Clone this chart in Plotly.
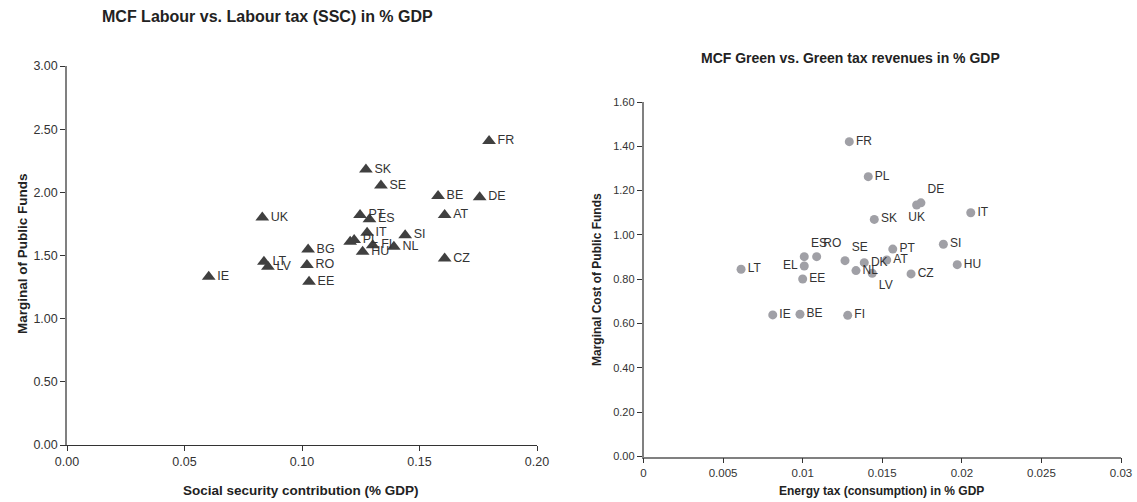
import plotly.graph_objects as go

# ---------------- Data: left chart (MCF Labour vs SSC) ----------------
labour_countries = ["FR", "SK", "SE", "BE", "DE", "UK", "PT", "ES", "AT", "IT", "SI",
                    "", "PL", "FI", "NL", "HU", "CZ", "BG", "LT", "LV", "RO", "IE", "EE"]
labour_ssc = [0.1796, 0.1272, 0.1336, 0.1579, 0.1756, 0.0831, 0.1247, 0.1287, 0.1607, 0.1277, 0.1439,
              0.1205, 0.1222, 0.1301, 0.1391, 0.1258, 0.1607, 0.1026, 0.0838, 0.0855, 0.1021, 0.0603, 0.1030]
labour_mcf = [2.407, 2.181, 2.055, 1.970, 1.962, 1.801, 1.820, 1.786, 1.820, 1.680, 1.661,
              1.608, 1.622, 1.582, 1.569, 1.529, 1.477, 1.548, 1.450, 1.411, 1.424, 1.331, 1.292]

# ---------------- Data: right chart (MCF Green vs energy tax) ----------------
green_countries = ["FR", "PL", "DE", "UK", "IT", "SK", "SI", "PT", "HU", "CZ", "LT", "IE", "BE", "FI",
                   "ES", "RO", "EL", "EE", "SE", "NL", "DK", "LV", "AT"]
green_tax = [0.01293, 0.01412, 0.01743, 0.01716, 0.02056, 0.01450, 0.01884, 0.01566, 0.01971, 0.01681,
             0.00613, 0.00812, 0.00983, 0.01283,
             0.01010, 0.01088, 0.01010, 0.01000, 0.01266, 0.01335, 0.01387, 0.01437, 0.01528]
green_mcf = [1.421, 1.263, 1.145, 1.135, 1.100, 1.070, 0.958, 0.936, 0.866, 0.824,
             0.845, 0.639, 0.642, 0.637,
             0.902, 0.902, 0.860, 0.801, 0.884, 0.839, 0.875, 0.827, 0.887]

# tick labels
left_xticks = [0.00, 0.05, 0.10, 0.15, 0.20]
left_yticks = [0.00, 0.50, 1.00, 1.50, 2.00, 2.50, 3.00]
right_xticks = [0, 0.005, 0.01, 0.015, 0.02, 0.025, 0.03]
right_xticktext = ["0", "0.005", "0.01", "0.015", "0.02", "0.025", "0.03"]
right_yticks = [0.00, 0.20, 0.40, 0.60, 0.80, 1.00, 1.20, 1.40, 1.60]

# label placement exceptions (style)
green_textpos_special = {"UK": "bottom center", "DE": "top right", "ES": "top right",
                         "RO": "top right", "SE": "top right", "EL": "middle left",
                         "LV": "bottom right"}
green_textpos = [green_textpos_special.get(c, "middle right") for c in green_countries]

W, H = 1137, 502
FONT = "Liberation Sans, Arial, sans-serif"

def px_x(p):
    return p / W

def px_y(p):
    return 1 - p / H

fig = go.Figure()

fig.add_trace(go.Scatter(
    x=labour_ssc, y=labour_mcf, text=labour_countries,
    mode="markers+text", textposition="middle right",
    marker=dict(symbol="triangle-up", size=12, color="#404040"),
    textfont=dict(family=FONT, size=12.5, color="#333333"),
    cliponaxis=False, xaxis="x", yaxis="y", showlegend=False,
))

fig.add_trace(go.Scatter(
    x=green_tax, y=green_mcf, text=green_countries,
    mode="markers+text", textposition=green_textpos,
    marker=dict(symbol="circle", size=9, color="#A0A0A6"),
    textfont=dict(family=FONT, size=12, color="#333333"),
    cliponaxis=False, xaxis="x2", yaxis="y2", showlegend=False,
))

axis_common = dict(showgrid=False, zeroline=False, showline=True, ticks="outside",
                   ticklen=5, automargin=False, fixedrange=True)

fig.update_layout(
    width=W, height=H,
    margin=dict(l=0, r=0, t=0, b=0),
    paper_bgcolor="white", plot_bgcolor="white",
    font=dict(family=FONT, color="#333333"),
    xaxis=dict(domain=[px_x(67), px_x(537)], range=[0, 0.2],
               tickvals=left_xticks, tickformat=".2f",
               linecolor="#333333", tickcolor="#333333", linewidth=1,
               tickfont=dict(size=12.5, color="#333333"), anchor="y", **axis_common),
    yaxis=dict(domain=[px_y(445), px_y(66)], range=[0, 3],
               tickvals=left_yticks, tickformat=".2f",
               linecolor="#808080", tickcolor="#333333", linewidth=1.5,
               tickfont=dict(size=12.5, color="#333333"), anchor="x", **axis_common),
    xaxis2=dict(domain=[px_x(643.5), px_x(1121)], range=[0, 0.03],
                tickvals=right_xticks, ticktext=right_xticktext,
                linecolor="#808080", tickcolor="#333333", linewidth=1.5,
                tickfont=dict(size=11.5, color="#333333"), anchor="y2", **axis_common),
    yaxis2=dict(domain=[px_y(456.5), px_y(102)], range=[0, 1.6],
                tickvals=right_yticks, tickformat=".2f",
                linecolor="#808080", tickcolor="#333333", linewidth=1.5,
                tickfont=dict(size=11, color="#333333"), anchor="x2", **axis_common),
)

annots = [
    dict(text="<b>MCF Labour vs. Labour tax (SSC) in % GDP</b>", x=px_x(100), y=px_y(17), size=16,
         anchor="left"),
    dict(text="<b>MCF Green vs. Green tax revenues in % GDP</b>", x=px_x(699), y=px_y(58), size=14,
         anchor="left"),
    dict(text="<b>Social security contribution (% GDP)</b>", x=px_x(301), y=px_y(490), size=13.5,
         anchor="center"),
    dict(text="<b>Energy tax (consumption) in % GDP</b>", x=px_x(882), y=px_y(491), size=12,
         anchor="center"),
]
for a in annots:
    fig.add_annotation(text=a["text"], x=a["x"], y=a["y"], xref="paper", yref="paper",
                       xanchor=a["anchor"], yanchor="middle", showarrow=False,
                       font=dict(family=FONT, size=a["size"], color="#222222"))

fig.add_annotation(text="<b>Marginal of Public Funds</b>", x=px_x(22), y=px_y(254),
                   xref="paper", yref="paper", textangle=-90, showarrow=False,
                   xanchor="center", yanchor="middle",
                   font=dict(family=FONT, size=13.5, color="#222222"))
fig.add_annotation(text="<b>Marginal Cost of Public Funds</b>", x=px_x(597), y=px_y(280),
                   xref="paper", yref="paper", textangle=-90, showarrow=False,
                   xanchor="center", yanchor="middle",
                   font=dict(family=FONT, size=12, color="#222222"))

fig.write_html("out.html", config={"displayModeBar": False},
               post_script="document.body.style.margin='0px';")
